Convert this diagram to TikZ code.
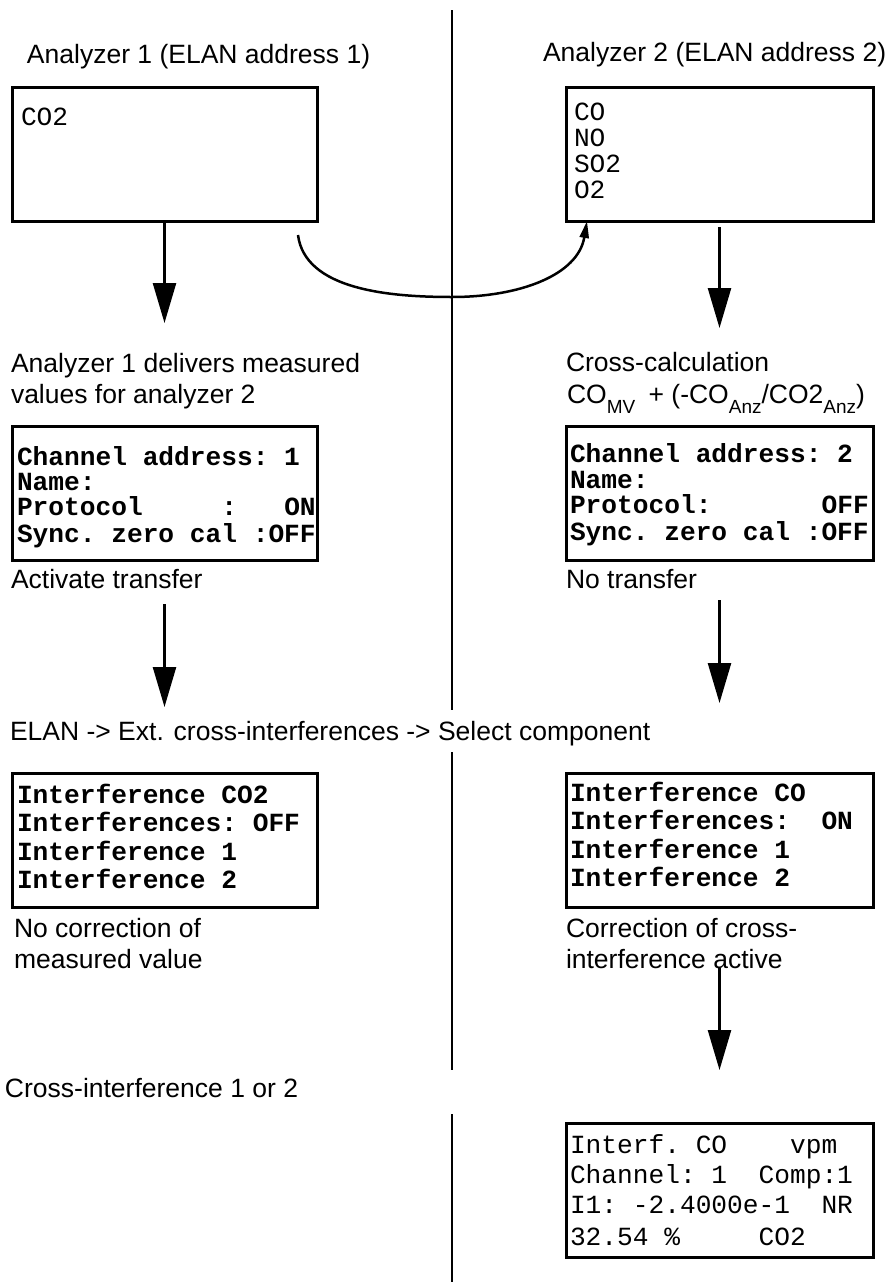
\documentclass[tikz,border=0pt]{standalone}
\usepackage{fontspec}
\setmainfont{Liberation Sans}
\newfontfamily\lcdfont{Liberation Mono}
\usetikzlibrary{arrows.meta}
\newcommand\lowidx[1]{\raisebox{-10pt}{\fontsize{19}{19}\selectfont #1}}
\begin{document}
\begin{tikzpicture}[x=1pt,y=-1pt,
  lbl/.style={anchor=base west, inner sep=0pt, outer sep=0pt, font=\fontsize{26.5}{31}\selectfont},
  lcd/.style={anchor=base west, inner sep=0pt, outer sep=0pt, font=\fontsize{26.2}{26}\selectfont\lcdfont\bfseries},
  lcdr/.style={anchor=base west, inner sep=0pt, outer sep=0pt, font=\fontsize{26.2}{26}\selectfont\lcdfont},
  panel/.style={draw, line width=3pt, inner sep=0pt, outer sep=0pt, anchor=north west, minimum height=134pt},
  lpanel/.style={panel, minimum width=305pt},
  rpanel/.style={panel, minimum width=307pt},
  flow/.style={line width=2.5pt, -{Triangle[length=40pt,width=23pt]}},
  divider/.style={line width=2.5pt},
  loop/.style={line width=2.5pt, -{Triangle[length=17pt,width=9pt]}}
]
\fill[white] (0,0) rectangle (893,1282);
\useasboundingbox (0,0) rectangle (893,1282);

% divider
\coordinate (d1t) at (452,10);
\coordinate (d1b) at (452,710);
\coordinate (d2t) at (452,752);
\coordinate (d2b) at (452,1070);
\coordinate (d3t) at (452,1114);
\coordinate (d3b) at (452,1282);
\draw[divider] (d1t) -- (d1b);
\draw[divider] (d2t) -- (d2b);
\draw[divider] (d3t) -- (d3b);

% headings
\node[lbl] (h1) at (27,63) {Analyzer 1 (ELAN address 1)};
\node[lbl] (h2) at (543,61) {Analyzer 2 (ELAN address 2)};

% boxes
\node[lpanel] (box1) at (12,87) {};
\node[rpanel] (box2) at (566,87) {};
\node[lpanel] (box3) at (12,426) {};
\node[rpanel] (box4) at (566,426) {};
\node[lpanel] (box5) at (12,773) {};
\node[rpanel] (box6) at (566,773) {};
\node[rpanel] (box7) at (566,1123) {};

% box texts
\node[lcdr] (b1l1) at (21,125) {CO2};
\node[lcdr] (b2l1) at (574,120) {CO};
\node[lcdr] (b2l2) at (574,146) {NO};
\node[lcdr] (b2l3) at (574,172) {SO2};
\node[lcdr] (b2l4) at (574,198) {O2};

\node[lcd] (b3l1) at (17,465) {Channel~address:~1};
\node[lcd] (b3l2) at (17,490) {Name:};
\node[lcd] (b3l3) at (17,515) {Protocol~~~~~:~~~ON};
\node[lcd] (b3l4) at (17,542) {Sync.~zero~cal~:OFF};

\node[lcd] (b4l1) at (570,462) {Channel~address:~2};
\node[lcd] (b4l2) at (570,488) {Name:};
\node[lcd] (b4l3) at (570,513) {Protocol:~~~~~~~OFF};
\node[lcd] (b4l4) at (570,540) {Sync.~zero~cal~:OFF};

\node[lcd] (b5l1) at (17,803) {Interference~CO2};
\node[lcd] (b5l2) at (17,831) {Interferences:~OFF};
\node[lcd] (b5l3) at (17,860) {Interference~1};
\node[lcd] (b5l4) at (17,888) {Interference~2};

\node[lcd] (b6l1) at (570,801) {Interference~CO};
\node[lcd] (b6l2) at (570,829) {Interferences:~~ON};
\node[lcd] (b6l3) at (570,858) {Interference~1};
\node[lcd] (b6l4) at (570,886) {Interference~2};

\node[lcdr] (b7l1) at (570,1153) {Interf.~CO~~~~vpm};
\node[lcdr] (b7l2) at (570,1183) {Channel:~1~~Comp:1};
\node[lcdr] (b7l3) at (570,1213) {I1:~-2.4000e-1~~NR};
\node[lcdr] (b7l4) at (570,1245) {32.54~\%~~~~~CO2};

% labels
\node[lbl] (t3a) at (11,372) {Analyzer 1 delivers measured};
\node[lbl] (t3b) at (11,403) {values for analyzer 2};
\node[lbl] (t4a) at (566,371) {Cross-calculation};
\node[lbl] (t4b) at (567,403) {CO\lowidx{MV}\hspace{6pt} + (-CO\lowidx{Anz}/CO2\lowidx{Anz})};
\node[lbl] (t5) at (11,588) {Activate transfer};
\node[lbl] (t6) at (566,588) {No transfer};
\node[lbl] (t7) at (10,740) {ELAN -> Ext. cross-interferences -> Select component};
\node[lbl] (t8a) at (14,937) {No correction of};
\node[lbl] (t8b) at (14,968) {measured value};
\node[lbl] (t9a) at (566,937) {Correction of cross-};
\node[lbl] (t9b) at (566,968) {interference active};
\node[lbl] (t10) at (5,1097) {Cross-interference 1 or 2};

% arrow end points
\coordinate (a1e) at (164.5,323);
\coordinate (a2s) at (164.5,604);
\coordinate (a2e) at (164.5,707);
\coordinate (r1e) at (719.5,328);
\coordinate (r2s) at (719.5,600);
\coordinate (r2e) at (719.5,703);
\coordinate (r3s) at (719.5,968);
\coordinate (r3e) at (719.5,1070);
\coordinate (cs) at (298,235);
\coordinate (cb) at (452,297);

\draw[flow] (box1.south) -- (a1e);
\draw[flow] ([yshift=-6pt]box2.south) -- (r1e);
\draw[flow] (a2s) -- (a2e);
\draw[flow] (r2s) -- (r2e);
\draw[flow] (r3s) -- (r3e);
\draw[loop] (cs) .. controls (305,290) and (390,297) .. (cb)
  .. controls (520,297) and (578,275) .. ([xshift=21pt]box2.south west);
\end{tikzpicture}
\end{document}
